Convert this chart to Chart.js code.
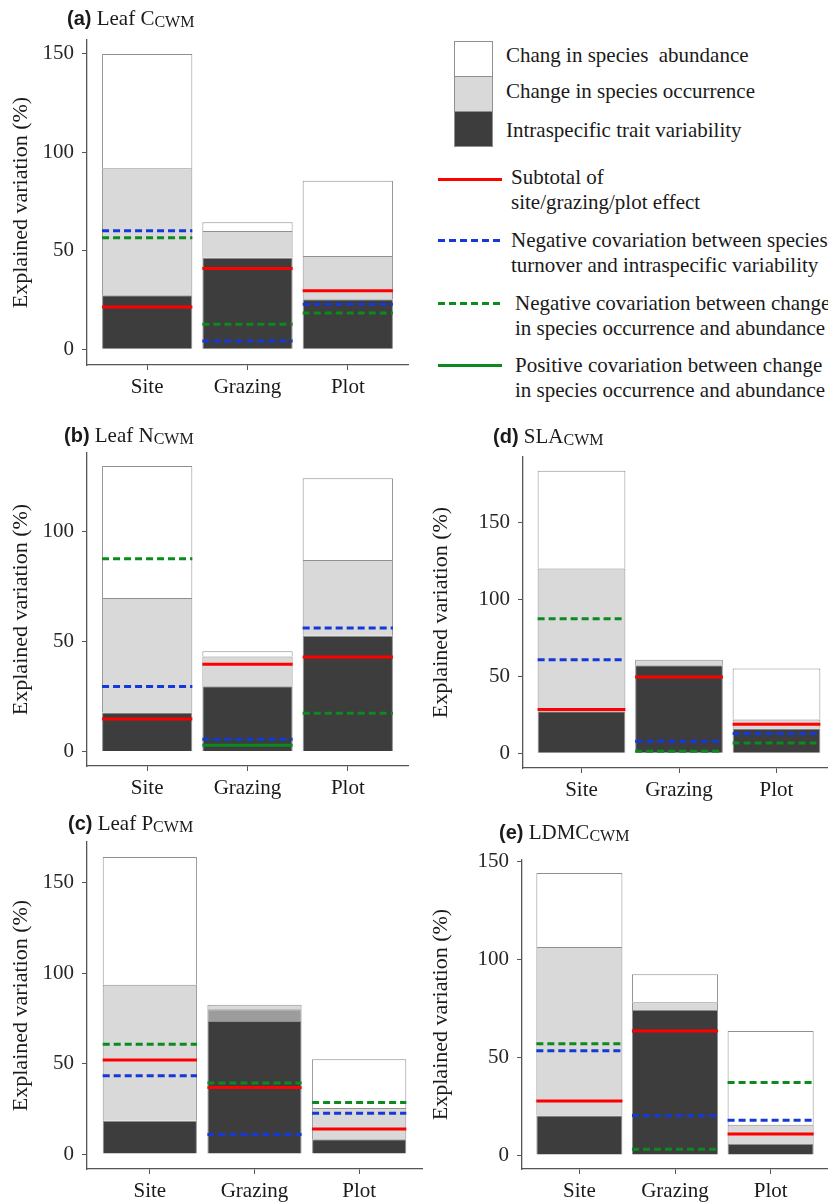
<!DOCTYPE html>
<html>
<head>
<meta charset="utf-8">
<script src="https://cdn.jsdelivr.net/npm/chart.js@4.4.1/dist/chart.umd.min.js"></script>
<style>
  body { margin: 0; width: 828px; height: 1202px; overflow: hidden; position: relative; background: #fff;
         font-family: "Liberation Serif", "Times New Roman", serif; color: #1a1a1a; }
  canvas { position: absolute; }
  .title { position: absolute; font-size: 21px; line-height: 24px; white-space: nowrap; z-index: 2; }
  .title b { font-family: "Liberation Sans", Arial, sans-serif; font-size: 20px; }
  .title sub { font-size: 16px; vertical-align: -2px; line-height: 0; }
  .lg { position: absolute; font-size: 21px; line-height: 25px; white-space: pre; z-index: 2; }
  .sw { position: absolute; z-index: 2; }
  .box { position: absolute; left: 454px; width: 37px; height: 34px; border: 1px solid #8f8f8f; }
</style>
</head>
<body>

<canvas id="cA" width="420" height="387" style="left:0;top:18px"></canvas>
<canvas id="cB" width="420" height="374" style="left:0;top:431px"></canvas>
<canvas id="cD" width="420" height="370" style="left:420px;top:435px"></canvas>
<canvas id="cC" width="425" height="382" style="left:0;top:820px"></canvas>
<canvas id="cE" width="410" height="364" style="left:420px;top:838px"></canvas>

<div class="title" style="left:67px;top:6px"><b>(a)</b> Leaf C<sub>CWM</sub></div>
<div class="title" style="left:64px;top:423px"><b>(b)</b> Leaf N<sub>CWM</sub></div>
<div class="title" style="left:493px;top:424px"><b>(d)</b> SLA<sub>CWM</sub></div>
<div class="title" style="left:68px;top:811px"><b>(c)</b> Leaf P<sub>CWM</sub></div>
<div class="title" style="left:499px;top:820px"><b>(e)</b> LDMC<sub>CWM</sub></div>

<!-- legend -->
<div class="box" style="top:41px;background:#ffffff"></div>
<div class="box" style="top:76px;background:#d9d9d9"></div>
<div class="box" style="top:111px;background:#3d3d3d"></div>
<div class="lg" style="left:506px;top:43px">Chang in species  abundance</div>
<div class="lg" style="left:506px;top:79px">Change in species occurrence</div>
<div class="lg" style="left:506px;top:118px">Intraspecific trait variability</div>

<svg class="sw" style="left:438px;top:176px" width="66" height="7"><line x1="0" y1="3.5" x2="64" y2="3.5" stroke="#ff0000" stroke-width="3"/></svg>
<div class="lg" style="left:511px;top:165px">Subtotal of
site/grazing/plot effect</div>

<svg class="sw" style="left:438px;top:237px" width="66" height="7"><line x1="0" y1="3.5" x2="64" y2="3.5" stroke="#1538d8" stroke-width="3" stroke-dasharray="7 4"/></svg>
<div class="lg" style="left:511px;top:228px">Negative covariation between species
turnover and intraspecific variability</div>

<svg class="sw" style="left:438px;top:300px" width="66" height="7"><line x1="0" y1="3.5" x2="64" y2="3.5" stroke="#0b8a1d" stroke-width="3" stroke-dasharray="7 4"/></svg>
<div class="lg" style="left:515px;top:291px">Negative covariation between change
in species occurrence and abundance</div>

<svg class="sw" style="left:438px;top:362px" width="66" height="7"><line x1="0" y1="3.5" x2="64" y2="3.5" stroke="#0b8a1d" stroke-width="3"/></svg>
<div class="lg" style="left:515px;top:353px">Positive covariation between change
in species occurrence and abundance</div>

<script>
const categories = ['Site', 'Grazing', 'Plot'];

// (a) Leaf C
const leafC_intra = [27.4, 46.5, 25.4];
const leafC_mid = [0, 0, 0];
const leafC_occur = [64.6, 13.6, 22.0];
const leafC_abund = [58.0, 4.4, 38.2];
const leafC_subtotal = [21.5, 41.0, 29.8];
const leafC_negTurn = [60.2, 4.2, 22.9];
const leafC_negOcc = [56.7, 12.7, 18.4];
const leafC_posOcc = [null, null, null];
const leafC_ticks = [0, 50, 100, 150];

// (b) Leaf N
const leafN_intra = [17.7, 29.6, 52.5];
const leafN_mid = [0, 0, 0];
const leafN_occur = [51.9, 13.5, 34.4];
const leafN_abund = [59.9, 2.4, 37.1];
const leafN_subtotal = [14.8, 39.6, 42.9];
const leafN_negTurn = [29.5, 5.6, 56.0];
const leafN_negOcc = [87.4, null, 17.4];
const leafN_posOcc = [null, 2.9, null];
const leafN_ticks = [0, 50, 100];

// (d) SLA
const sla_intra = [27.3, 57.1, 16.0];
const sla_mid = [0, 0, 0];
const sla_occur = [92.6, 3.5, 5.9];
const sla_abund = [63.4, 0, 33.1];
const sla_subtotal = [28.4, 49.5, 18.8];
const sla_negTurn = [60.6, 7.8, 12.8];
const sla_negOcc = [87.2, 1.3, 6.7];
const sla_posOcc = [null, null, null];
const sla_ticks = [0, 50, 100, 150];

// (c) Leaf P
const leafP_intra = [18.4, 73.5, 8.1];
const leafP_mid = [0, 6.5, 0];
const leafP_occur = [75.1, 2.5, 17.3];
const leafP_abund = [70.6, 0, 27.0];
const leafP_subtotal = [52.0, 36.7, 13.8];
const leafP_negTurn = [43.2, 10.8, 22.6];
const leafP_negOcc = [60.7, 39.2, 28.5];
const leafP_posOcc = [null, null, null];
const leafP_ticks = [0, 50, 100, 150];

// (e) LDMC
const ldmc_intra = [20.2, 74.1, 5.6];
const ldmc_mid = [0, 0, 0];
const ldmc_occur = [86.1, 3.9, 9.9];
const ldmc_abund = [37.7, 14.3, 47.8];
const ldmc_subtotal = [27.6, 63.3, 10.7];
const ldmc_negTurn = [53.2, 20.2, 17.7];
const ldmc_negOcc = [56.8, 2.9, 37.0];
const ldmc_posOcc = [null, null, null];
const ldmc_ticks = [0, 50, 100, 150];

const FONT = "'Liberation Serif', 'Times New Roman', serif";
const AXIS = '#555555';
Chart.defaults.font.family = FONT;
Chart.defaults.font.size = 21;

function barSet(label, vals, color) {
    return {
        type: 'bar', label: label, stack: 'bars', order: 2,
        data: vals.map((v, i) => ({ x: i + 1, y: v })),
        backgroundColor: color, borderColor: '#8f8f8f', borderWidth: 1, borderSkipped: 'start',
        categoryPercentage: 1, barPercentage: 0.9
    };
}

// horizontal segment across each bar, broken between categories
function lineSet(label, vals, color, dash) {
    const pts = [];
    vals.forEach((v, i) => {
        if (v === null) return;
        pts.push({ x: i + 0.55, y: v }, { x: i + 1.45, y: v }, { x: i + 1.5, y: null });
    });
    return {
        type: 'line', label: label, stack: label, order: 1,
        data: pts, borderColor: color, borderWidth: 3, borderDash: dash, borderCapStyle: 'butt',
        pointRadius: 0, fill: false, spanGaps: false, tension: 0
    };
}

function makePanel(id, d, lay) {
    new Chart(document.getElementById(id), {
        data: {
            datasets: [
                barSet('Intraspecific trait variability', d.intra, '#3d3d3d'),
                barSet('overlap', d.mid, '#9c9c9c'),
                barSet('Change in species occurrence', d.occur, '#d9d9d9'),
                barSet('Chang in species abundance', d.abund, '#ffffff'),
                lineSet('Subtotal', d.subtotal, '#ff0000', []),
                lineSet('negTurn', d.negTurn, '#1538d8', [7, 4]),
                lineSet('negOcc', d.negOcc, '#0b8a1d', [7, 4]),
                lineSet('posOcc', d.posOcc, '#0b8a1d', [])
            ]
        },
        options: {
            responsive: false,
            animation: false,
            devicePixelRatio: 1,
            layout: { padding: { top: 22, right: lay.padRight, left: 0, bottom: 0 } },
            plugins: { legend: { display: false }, tooltip: { enabled: false } },
            scales: {
                x: {
                    type: 'linear', min: 0.4, max: 3.6, stacked: true, offset: false,
                    afterBuildTicks: s => { s.ticks = categories.map((c, i) => ({ value: i + 1 })); },
                    afterFit: s => { s.height = lay.xH; },
                    ticks: {
                        callback: v => categories[v - 1],
                        font: { family: FONT, size: 21 }, color: '#1a1a1a',
                        padding: 5, maxRotation: 0, autoSkip: false
                    },
                    grid: { offset: false, drawOnChartArea: false, drawTicks: true, tickLength: 5, color: AXIS },
                    border: { display: true, color: AXIS, width: 1.3 }
                },
                y: {
                    min: lay.yMin, max: lay.yMax, stacked: true,
                    afterBuildTicks: s => { s.ticks = d.ticks.map(v => ({ value: v })); },
                    afterFit: s => { s.width = lay.yW; },
                    ticks: { font: { family: FONT, size: 21 }, color: '#262626', padding: 8 },
                    grid: { drawOnChartArea: false, drawTicks: true, tickLength: 5, color: AXIS },
                    border: { display: true, color: AXIS, width: 1.3 },
                    title: {
                        display: true, text: 'Explained variation (%)',
                        font: { family: FONT, size: 22 }, color: '#1a1a1a', padding: { top: 8, bottom: 0 }
                    }
                }
            }
        }
    });
}

makePanel('cA',
    { intra: leafC_intra, mid: leafC_mid, occur: leafC_occur, abund: leafC_abund,
      subtotal: leafC_subtotal, negTurn: leafC_negTurn, negOcc: leafC_negOcc, posOcc: leafC_posOcc, ticks: leafC_ticks },
    { yW: 87, xH: 40, padRight: 12, yMin: -7.97, yMax: 157.1 });

makePanel('cB',
    { intra: leafN_intra, mid: leafN_mid, occur: leafN_occur, abund: leafN_abund,
      subtotal: leafN_subtotal, negTurn: leafN_negTurn, negOcc: leafN_negOcc, posOcc: leafN_posOcc, ticks: leafN_ticks },
    { yW: 87, xH: 39, padRight: 12, yMin: -6.54, yMax: 135.4 });

makePanel('cD',
    { intra: sla_intra, mid: sla_mid, occur: sla_occur, abund: sla_abund,
      subtotal: sla_subtotal, negTurn: sla_negTurn, negOcc: sla_negOcc, posOcc: sla_posOcc, ticks: sla_ticks },
    { yW: 103, xH: 37, padRight: 5, yMin: -9.55, yMax: 192.2 });

makePanel('cC',
    { intra: leafP_intra, mid: leafP_mid, occur: leafP_occur, abund: leafP_abund,
      subtotal: leafP_subtotal, negTurn: leafP_negTurn, negOcc: leafP_negOcc, posOcc: leafP_posOcc, ticks: leafP_ticks },
    { yW: 87, xH: 33, padRight: 3, yMin: -8.27, yMax: 172.4 });

makePanel('cE',
    { intra: ldmc_intra, mid: ldmc_mid, occur: ldmc_occur, abund: ldmc_abund,
      subtotal: ldmc_subtotal, negTurn: ldmc_negTurn, negOcc: ldmc_negOcc, posOcc: ldmc_posOcc, ticks: ldmc_ticks },
    { yW: 102, xH: 33, padRight: 2, yMin: -7.14, yMax: 150.7 });
</script>
</body>
</html>
